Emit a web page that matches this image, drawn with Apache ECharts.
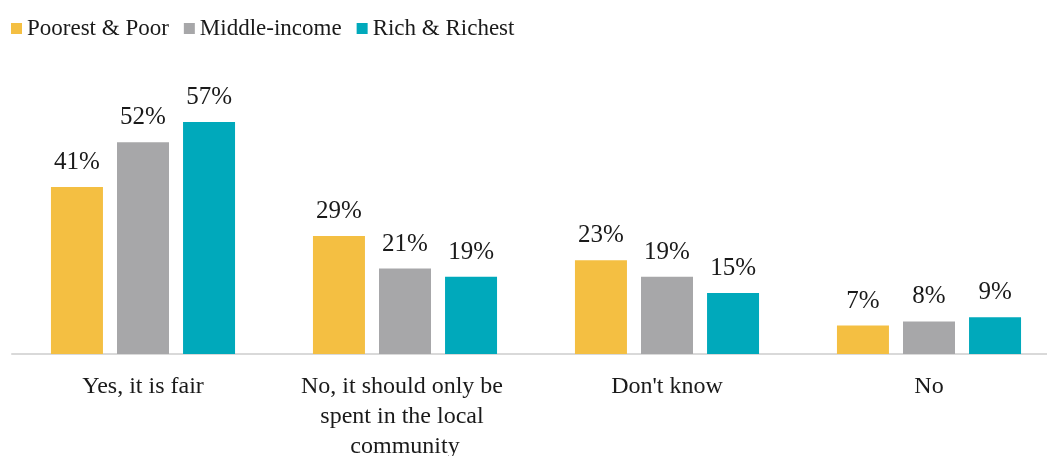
<!DOCTYPE html>
<html>
<head>
<meta charset="utf-8">
<script src="https://cdn.jsdelivr.net/npm/echarts@6/dist/echarts.min.js"></script>
<style>
  html, body { margin: 0; padding: 0; background: #fff; }
  #chart { width: 1047px; height: 456px; }
</style>
</head>
<body>
<div id="chart"></div>
<script>
// Survey answers by income group (percent of respondents)
const categories = ['Yes, it is fair', 'No, it should only be spent in the local community', "Don't know", 'No'];
const seriesNames = ['Poorest & Poor', 'Middle-income', 'Rich & Richest'];
const poorestPoor = [41, 29, 23, 7];
const middleIncome = [52, 21, 19, 8];
const richRichest = [57, 19, 15, 9];
const colors = ['#F4BF42', '#A7A7A9', '#00A9BB'];

const serif = '"Liberation Serif", "DejaVu Serif", serif';
const values = [poorestPoor, middleIncome, richRichest];

const chart = echarts.init(document.getElementById('chart'));
chart.setOption({
  animation: false,
  textStyle: { fontFamily: serif },
  legend: {
    left: 6,
    top: 12,
    itemWidth: 11,
    itemHeight: 11,
    itemGap: 15,
    icon: 'rect',
    textStyle: { fontFamily: serif, fontSize: 23, color: '#1a1a1a' },
    data: seriesNames
  },
  grid: {
    left: 12,
    width: 1048,
    top: 69,
    bottom: 102,
    containLabel: false,
    outerBoundsMode: 'none'
  },
  xAxis: {
    type: 'category',
    data: categories,
    axisLine: { lineStyle: { color: '#D9D9D9', width: 2 } },
    axisTick: { show: false },
    axisLabel: {
      fontFamily: serif,
      fontSize: 24,
      color: '#1a1a1a',
      margin: 18,
      lineHeight: 30,
      width: 240,
      overflow: 'break',
      interval: 0
    }
  },
  yAxis: {
    type: 'value',
    min: 0,
    max: 70,
    show: false,
    splitLine: { show: false }
  },
  series: values.map((v, i) => ({
    name: seriesNames[i],
    type: 'bar',
    data: v,
    barWidth: 52,
    barGap: '27%',
    itemStyle: { color: colors[i] },
    label: {
      show: true,
      position: 'top',
      distance: 12,
      formatter: '{c}%',
      fontFamily: serif,
      fontSize: 25,
      color: '#1a1a1a'
    }
  }))
});
</script>
</body>
</html>
